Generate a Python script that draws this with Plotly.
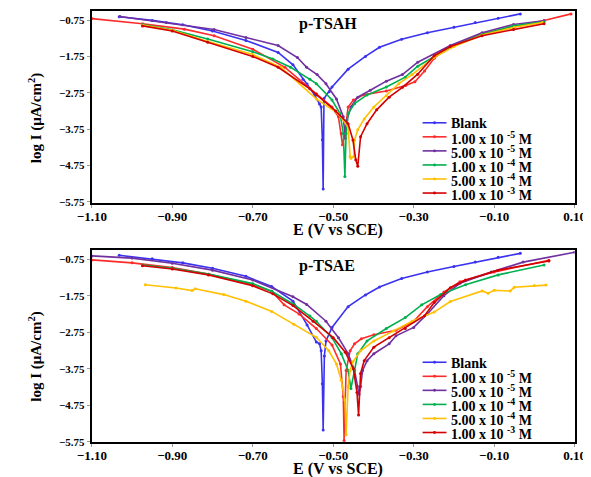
import plotly.graph_objects as go

W, H = 591, 477

# ---------------- shared labels ----------------
x_ticks = [-1.10, -0.90, -0.70, -0.50, -0.30, -0.10, 0.10]
y_ticks = [-0.75, -1.75, -2.75, -3.75, -4.75, -5.75]
legend_names = ["Blank", "1.00 x 10 <sup>-5</sup> M", "5.00 x 10 <sup>-5</sup> M",
                "1.00 x 10 <sup>-4</sup> M", "5.00 x 10 <sup>-4</sup> M", "1.00 x 10 <sup>-3</sup> M"]
series_colors = ["#3a32f0", "#ff2b2b", "#7030a0", "#00b050", "#ffc000", "#d40000"]

# ---------------- data: p-TSAH (top) ----------------
h_blank_E = [-1.032, -0.95, -0.874, -0.80, -0.717, -0.637, -0.60, -0.575, -0.565, -0.546, -0.534, -0.530, -0.527, -0.525, -0.523, -0.510, -0.503, -0.463, -0.42, -0.385, -0.33, -0.266, -0.20, -0.147, -0.09, -0.035]
h_blank_L = [-0.66, -0.76, -0.88, -1.05, -1.31, -1.64, -1.98, -2.38, -2.51, -2.81, -3.06, -3.14, -4.04, -5.40, -2.91, -2.72, -2.59, -2.10, -1.75, -1.50, -1.28, -1.10, -0.95, -0.82, -0.70, -0.58]

h_r5_E = [-1.10, -0.974, -0.87, -0.796, -0.70, -0.62, -0.542, -0.503, -0.487, -0.480, -0.477, -0.471, -0.463, -0.45, -0.423, -0.368, -0.32, -0.297, -0.273, -0.249, -0.225, -0.20, -0.13, -0.05, 0.024, 0.091]
h_r5_L = [-0.71, -0.85, -1.00, -1.18, -1.55, -2.05, -2.78, -3.14, -3.41, -3.87, -4.18, -3.87, -3.14, -2.95, -2.80, -2.70, -2.55, -2.45, -2.15, -1.80, -1.60, -1.45, -1.13, -0.93, -0.76, -0.58]

h_p5_E = [-1.03, -0.915, -0.796, -0.717, -0.637, -0.589, -0.566, -0.540, -0.518, -0.492, -0.475, -0.470, -0.466, -0.456, -0.439, -0.408, -0.368, -0.328, -0.290, -0.209, -0.130, -0.052, 0.024]
h_p5_L = [-0.65, -0.82, -1.01, -1.23, -1.45, -1.78, -2.05, -2.25, -2.50, -2.92, -3.41, -4.00, -3.50, -3.14, -2.87, -2.68, -2.43, -2.25, -1.91, -1.45, -1.10, -0.87, -0.77]

h_g4_E = [-0.974, -0.90, -0.812, -0.70, -0.65, -0.606, -0.558, -0.542, -0.503, -0.483, -0.475, -0.471, -0.468, -0.463, -0.447, -0.416, -0.368, -0.321, -0.290, -0.209, -0.130, -0.052, 0.024]
h_g4_L = [-0.87, -1.02, -1.27, -1.62, -1.82, -2.05, -2.38, -2.50, -2.95, -3.32, -3.87, -5.05, -3.87, -3.32, -3.05, -2.81, -2.59, -2.32, -2.02, -1.50, -1.15, -0.91, -0.80]

h_y4_E = [-0.974, -0.90, -0.812, -0.70, -0.63, -0.542, -0.487, -0.463, -0.458, -0.456, -0.449, -0.447, -0.439, -0.423, -0.399, -0.368, -0.337, -0.304, -0.25, -0.20, -0.13, -0.05, 0.02]
h_y4_L = [-0.89, -1.03, -1.34, -1.70, -2.05, -2.92, -3.33, -3.69, -4.50, -4.55, -4.50, -4.05, -3.77, -3.47, -3.14, -2.83, -2.50, -2.25, -1.78, -1.48, -1.16, -0.95, -0.82]

h_r3_E = [-0.974, -0.90, -0.812, -0.70, -0.637, -0.558, -0.542, -0.494, -0.463, -0.451, -0.444, -0.439, -0.432, -0.416, -0.392, -0.361, -0.328, -0.290, -0.249, -0.209, -0.130, -0.052, 0.024]
h_r3_L = [-0.91, -1.05, -1.36, -1.75, -2.05, -2.64, -2.80, -3.25, -3.60, -4.05, -4.59, -4.77, -3.96, -3.60, -3.22, -2.87, -2.60, -2.24, -1.73, -1.48, -1.18, -1.01, -0.85]

# ---------------- data: p-TSAE (bottom) ----------------
e_blank_E = [-1.032, -0.95, -0.874, -0.80, -0.717, -0.653, -0.60, -0.565, -0.542, -0.534, -0.530, -0.527, -0.525, -0.522, -0.518, -0.503, -0.463, -0.42, -0.385, -0.33, -0.266, -0.20, -0.147, -0.09, -0.035]
e_blank_L = [-0.64, -0.74, -0.85, -1.00, -1.22, -1.50, -1.90, -2.55, -3.02, -3.07, -3.26, -4.16, -5.43, -3.40, -2.99, -2.62, -2.05, -1.73, -1.51, -1.28, -1.10, -0.95, -0.83, -0.70, -0.59]

e_r5_E = [-1.10, -1.0, -0.90, -0.81, -0.70, -0.653, -0.622, -0.585, -0.542, -0.503, -0.482, -0.475, -0.473, -0.468, -0.458, -0.447, -0.430, -0.399, -0.344, -0.30, -0.266, -0.225, -0.185, -0.10, 0.036]
e_r5_L = [-0.77, -0.85, -0.98, -1.16, -1.45, -1.63, -2.00, -2.25, -2.65, -3.10, -3.62, -4.51, -5.72, -3.80, -3.26, -3.07, -2.93, -2.82, -2.70, -2.45, -2.05, -1.65, -1.37, -1.10, -0.78]

e_p5_E = [-1.10, -1.0, -0.90, -0.80, -0.70, -0.60, -0.566, -0.518, -0.487, -0.463, -0.447, -0.440, -0.436, -0.432, -0.427, -0.416, -0.399, -0.361, -0.344, -0.30, -0.266, -0.225, -0.185, -0.107, -0.028, 0.10]
e_p5_L = [-0.66, -0.72, -0.86, -1.05, -1.32, -1.78, -1.99, -2.45, -2.90, -3.34, -3.80, -4.24, -4.45, -4.24, -3.80, -3.53, -3.34, -3.07, -2.85, -2.62, -2.25, -1.75, -1.41, -1.10, -0.83, -0.56]

e_g4_E = [-0.974, -0.90, -0.81, -0.70, -0.653, -0.598, -0.558, -0.542, -0.503, -0.480, -0.463, -0.456, -0.447, -0.439, -0.416, -0.368, -0.321, -0.280, -0.233, -0.171, -0.090, 0.024]
e_g4_L = [-0.91, -1.00, -1.16, -1.42, -1.63, -1.99, -2.31, -2.45, -2.90, -3.34, -3.80, -4.29, -3.80, -3.34, -2.99, -2.65, -2.35, -2.00, -1.72, -1.45, -1.18, -0.91]

e_y4_E = [-0.967, -0.891, -0.851, -0.843, -0.772, -0.717, -0.653, -0.598, -0.542, -0.511, -0.492, -0.480, -0.471, -0.468, -0.463, -0.458, -0.451, -0.432, -0.399, -0.351, -0.304, -0.249, -0.209, -0.13, -0.115, -0.10, -0.06, -0.05, 0.0, 0.029]
e_y4_L = [-1.45, -1.54, -1.61, -1.56, -1.72, -1.90, -2.18, -2.53, -2.89, -3.26, -3.62, -4.07, -4.61, -5.56, -4.24, -3.80, -3.56, -3.26, -2.99, -2.72, -2.45, -2.20, -1.91, -1.62, -1.68, -1.60, -1.62, -1.52, -1.47, -1.46]

e_r3_E = [-0.974, -0.90, -0.81, -0.70, -0.65, -0.60, -0.55, -0.50, -0.47, -0.45, -0.441, -0.437, -0.432, -0.423, -0.399, -0.361, -0.321, -0.273, -0.249, -0.209, -0.171, -0.09, 0.036]
e_r3_L = [-0.93, -1.02, -1.18, -1.48, -1.70, -2.02, -2.45, -2.90, -3.30, -3.75, -4.40, -5.02, -3.88, -3.53, -3.16, -2.90, -2.65, -2.30, -1.94, -1.53, -1.32, -1.05, -0.80]

top_series = [(h_blank_E, h_blank_L), (h_r5_E, h_r5_L), (h_p5_E, h_p5_L),
              (h_g4_E, h_g4_L), (h_y4_E, h_y4_L), (h_r3_E, h_r3_L)]
bot_series = [(e_blank_E, e_blank_L), (e_r5_E, e_r5_L), (e_p5_E, e_p5_L),
              (e_g4_E, e_g4_L), (e_y4_E, e_y4_L), (e_r3_E, e_r3_L)]

FONT = "Liberation Serif"

fig = go.Figure()
for (xs, ys), nm, col in zip(top_series, legend_names, series_colors):
    fig.add_trace(go.Scatter(x=xs, y=ys, name=nm, mode="lines+markers", showlegend=False,
                             line=dict(color=col, width=1.6), marker=dict(color=col, size=3),
                             xaxis="x", yaxis="y"))
for (xs, ys), nm, col in zip(bot_series, legend_names, series_colors):
    fig.add_trace(go.Scatter(x=xs, y=ys, name=nm, mode="lines+markers", showlegend=False,
                             line=dict(color=col, width=1.6), marker=dict(color=col, size=3),
                             xaxis="x2", yaxis="y2"))

def px_x(p):
    return p / W

def px_y(p):
    return 1 - p / H

xdom = [px_x(72), px_x(577)]
axis_common = dict(showline=True, linecolor="black", linewidth=2, mirror=True,
                   ticks="outside", ticklen=3, tickcolor="#999", showgrid=False, zeroline=False)
xfont = dict(family=FONT, size=13, color="black", weight="bold")
yfont = dict(family=FONT, size=11, color="black", weight="bold")

fig.update_layout(
    width=W, height=H, margin=dict(l=0, r=0, t=0, b=0),
    paper_bgcolor="white", plot_bgcolor="white",
    font=dict(family=FONT, color="black"),
    showlegend=False,
    xaxis=dict(domain=xdom, range=[-1.10, 0.10], tickvals=x_ticks, tickformat=".2f",
               anchor="y", tickfont=xfont, ticklabelstandoff=-3, **axis_common),
    yaxis=dict(domain=[px_y(197), px_y(3)], range=[-5.78, -0.50], tickvals=y_ticks,
               tickformat=".2f", anchor="x", tickfont=yfont, **axis_common),
    xaxis2=dict(domain=xdom, range=[-1.10, 0.10], tickvals=x_ticks, tickformat=".2f",
                anchor="y2", tickfont=xfont, ticklabelstandoff=-3, **axis_common),
    yaxis2=dict(domain=[px_y(439), px_y(245)], range=[-5.77, -0.51], tickvals=y_ticks,
                tickformat=".2f", anchor="x2", tickfont=yfont, **axis_common),
)

ann_font = dict(family=FONT, size=16, color="black", weight="bold")
title_font = dict(family=FONT, size=16, color="black", weight="bold")
ytitle_font = dict(family=FONT, size=15, color="black", weight="bold")
annotations = [
    dict(text="p-TSAH", x=px_x(287), y=px_y(16), xanchor="left", yanchor="middle", font=ann_font),
    dict(text="p-TSAE", x=px_x(287), y=px_y(261), xanchor="left", yanchor="middle", font=ann_font),
    dict(text="E (V vs SCE)", x=px_x(330), y=px_y(224), xanchor="center", yanchor="middle", font=title_font),
    dict(text="E (V vs SCE)", x=px_x(330), y=px_y(466), xanchor="center", yanchor="middle", font=title_font),
    dict(text="log I (μA/cm<sup>2</sup>)", x=px_x(13), y=px_y(111), textangle=-90,
         xanchor="center", yanchor="middle", font=ytitle_font),
    dict(text="log I (μA/cm<sup>2</sup>)", x=px_x(13), y=px_y(352), textangle=-90,
         xanchor="center", yanchor="middle", font=ytitle_font),
]

# manual compact legends (one per panel)
shapes = []
leg_font = dict(family=FONT, size=14, color="black", weight="bold")
for top_row in (116, 358):
    for i, (nm, col) in enumerate(zip(legend_names, series_colors)):
        yy = top_row + i * 14.2
        shapes.append(dict(type="line", xref="paper", yref="paper",
                           x0=px_x(418), x1=px_x(443), y0=px_y(yy), y1=px_y(yy),
                           line=dict(color=col, width=1.6)))
        shapes.append(dict(type="circle", xref="paper", yref="paper",
                           x0=px_x(429), x1=px_x(432), y0=px_y(yy + 1.5), y1=px_y(yy - 1.5),
                           fillcolor=col, line=dict(color=col, width=0)))
        annotations.append(dict(text=nm, x=px_x(446), y=px_y(yy + 1), xanchor="left",
                                yanchor="middle", font=leg_font))

for a in annotations:
    a.update(xref="paper", yref="paper", showarrow=False)
fig.update_layout(annotations=annotations, shapes=shapes)

fig.write_html("out.html")
